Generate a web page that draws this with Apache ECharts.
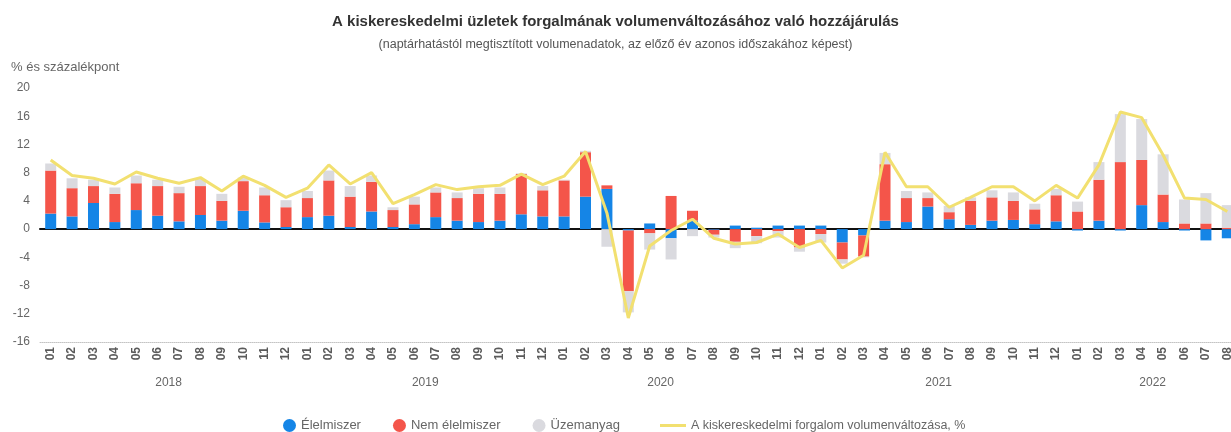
<!DOCTYPE html>
<html>
<head>
<meta charset="utf-8">
<script src="https://cdn.jsdelivr.net/npm/echarts@6/dist/echarts.min.js"></script>
<style>
html,body{margin:0;padding:0;background:#fff;}
#chart{width:1231px;height:432px;}
</style>
</head>
<body>
<div id="chart"></div>
<script>
// ---- data ----
const months = [
  '01','02','03','04','05','06','07','08','09','10','11','12',
  '01','02','03','04','05','06','07','08','09','10','11','12',
  '01','02','03','04','05','06','07','08','09','10','11','12',
  '01','02','03','04','05','06','07','08','09','10','11','12',
  '01','02','03','04','05','06','07','08'
];
const years = ['2018','2019','2020','2021','2022'];
const yearLabelIndex = [6, 18, 29, 42, 52];

const elelmiszer = [
  2.2, 1.8, 3.7, 1.0, 2.7, 1.9, 1.1, 2.0, 1.2, 2.6, 0.95, 0.3,
  1.7, 1.9, 0.3, 2.5, 0.3, 0.7, 1.7, 1.2, 1.0, 1.2, 2.1, 1.8,
  1.8, 4.6, 5.7, -0.2, 0.8, -1.3, 1.2, -0.1, 0.5, 0.2, 0.5, 0.5,
  0.5, -1.9, -0.9, 1.2, 1.0, 3.2, 1.4, 0.6, 1.2, 1.3, 0.7, 1.1,
  -0.2, 1.2, -0.2, 3.4, 1.0, -0.2, -1.6, -1.3
];
const nemElelmiszer = [
  6.1, 4.0, 2.4, 4.0, 3.8, 4.2, 4.0, 4.1, 2.8, 4.2, 3.85, 2.8,
  2.7, 5.0, 4.3, 4.2, 2.4, 2.8, 3.5, 3.2, 4.0, 3.8, 5.7, 3.7,
  5.1, 6.3, 0.5, -8.6, -0.6, 4.7, 1.4, -0.7, -1.8, -1.0, -0.3, -2.6,
  -0.7, -2.4, -3.0, 8.0, 3.4, 1.2, 1.0, 3.4, 3.3, 2.7, 2.1, 3.7,
  2.5, 5.8, 9.5, 6.4, 3.9, 0.8, 0.8, 0.2
];
const uzemanyag = [
  1.0, 1.4, 0.9, 0.9, 1.1, 0.9, 0.9, 1.0, 1.0, 0.5, 1.1, 1.0,
  1.0, 1.4, 1.5, 0.9, 0.4, 1.1, 0.7, 0.8, 0.8, 0.9, 0.1, 0.6,
  0.1, 0.2, -2.5, -3.0, -2.3, -3.0, -1.0, -0.4, -0.9, -1.0, -0.9, -0.6,
  -1.2, -0.6, -0.1, 1.6, 1.0, 0.8, 0.9, 0.5, 1.0, 1.2, 0.8, 0.9,
  1.4, 2.5, 6.8, 5.8, 5.7, 3.4, 4.3, 3.2
];
const forgalom = [
  9.8, 7.6, 7.2, 6.4, 8.1, 7.2, 6.5, 7.3, 5.4, 7.5, 6.2, 4.5,
  5.8, 9.1, 6.4, 8.0, 3.6, 4.9, 6.3, 5.6, 6.0, 6.2, 7.8, 6.3,
  7.5, 11.0, 2.3, -12.6, -2.4, -0.2, 1.4, -1.3, -2.1, -1.9, -0.7, -2.6,
  -1.6, -5.5, -3.7, 10.9, 6.0, 6.0, 3.1, 4.5, 6.0, 6.0, 4.0, 6.2,
  4.4, 9.1, 16.6, 15.8, 10.5, 4.4, 4.2, 2.5
];

const seriesNames = ['Élelmiszer', 'Nem élelmiszer', 'Üzemanyag', 'A kiskereskedelmi forgalom volumenváltozása, %'];
const colors = ['#1585e6', '#f4554a', '#dadadf', '#f2e070'];

// ---- chart ----
const chart = echarts.init(document.getElementById('chart'), null, {renderer: 'canvas'});
const fontFam = '"Liberation Sans", Arial, sans-serif';

const option = {
  backgroundColor: '#ffffff',
  animation: false,
  textStyle: {fontFamily: fontFam},
  title: [
    {
      text: 'A kiskereskedelmi üzletek forgalmának volumenváltozásához való hozzájárulás',
      subtext: '(naptárhatástól megtisztított volumenadatok, az előző év azonos időszakához képest)',
      left: 'center',
      top: 9,
      itemGap: 9,
      textStyle: {fontSize: 15, fontWeight: 'bold', color: '#333', fontFamily: fontFam},
      subtextStyle: {fontSize: 12.5, color: '#555', fontFamily: fontFam}
    },
    {
      text: '% és százalékpont',
      left: 6,
      top: 56,
      textStyle: {fontSize: 13, fontWeight: 'normal', color: '#666', fontFamily: fontFam}
    }
  ],
  legend: [
    {
      data: seriesNames.slice(0, 3),
      left: 278,
      top: 414,
      icon: 'circle',
      itemWidth: 13,
      itemHeight: 13,
      itemGap: 32,
      textStyle: {fontSize: 13, color: '#666', fontFamily: fontFam}
    },
    {
      data: [seriesNames[3]],
      left: 655,
      top: 414,
      icon: 'rect',
      itemWidth: 26,
      itemHeight: 3,
      textStyle: {fontSize: 12.5, color: '#666', fontFamily: fontFam}
    }
  ],
  grid: {
    left: 40,
    right: -7,
    top: 88,
    bottom: 90,
    containLabel: false,
    outerBoundsMode: 'none'
  },
  xAxis: [
    {
      type: 'category',
      data: months,
      position: 'bottom',
      axisLine: {onZero: false, lineStyle: {color: '#c4c4c4', type: 'dotted', width: 1}},
      axisTick: {show: false},
      axisLabel: {
        interval: 0,
        rotate: 90,
        margin: 5,
        fontSize: 12,
        fontWeight: 'bold',
        color: '#5a5a5a',
        fontFamily: fontFam
      },
      splitLine: {show: false}
    },
    {
      type: 'category',
      data: months,
      position: 'bottom',
      axisLine: {onZero: true, lineStyle: {color: '#111', width: 2}},
      axisTick: {show: false},
      axisLabel: {show: false},
      splitLine: {show: false}
    },
    {
      type: 'category',
      data: months,
      position: 'bottom',
      axisLine: {show: false, onZero: false},
      axisTick: {show: false},
      axisLabel: {
        interval: function (idx) { return yearLabelIndex.indexOf(idx) >= 0; },
        formatter: function (val, idx) {
          const k = yearLabelIndex.indexOf(idx);
          return k >= 0 ? years[k] : '';
        },
        margin: 35,
        padding: [0, 21, 0, 0],
        fontSize: 12,
        color: '#666',
        fontFamily: fontFam
      },
      splitLine: {show: false}
    }
  ],
  yAxis: {
    type: 'value',
    min: -16,
    max: 20,
    interval: 4,
    axisLine: {show: false},
    axisTick: {show: false},
    splitLine: {show: false},
    axisLabel: {fontSize: 12, color: '#666', margin: 10, fontFamily: fontFam}
  },
  series: [
    {
      name: seriesNames[0], type: 'bar', stack: 'total', data: elelmiszer,
      barWidth: 11, itemStyle: {color: colors[0]}
    },
    {
      name: seriesNames[1], type: 'bar', stack: 'total', data: nemElelmiszer,
      barWidth: 11, itemStyle: {color: colors[1]}
    },
    {
      name: seriesNames[2], type: 'bar', stack: 'total', data: uzemanyag,
      barWidth: 11, itemStyle: {color: colors[2]}
    },
    {
      name: seriesNames[3], type: 'line', data: forgalom,
      showSymbol: false, symbol: 'none',
      lineStyle: {color: colors[3], width: 3},
      itemStyle: {color: colors[3]},
      z: 5
    }
  ]
};
chart.setOption(option);
</script>
</body>
</html>
